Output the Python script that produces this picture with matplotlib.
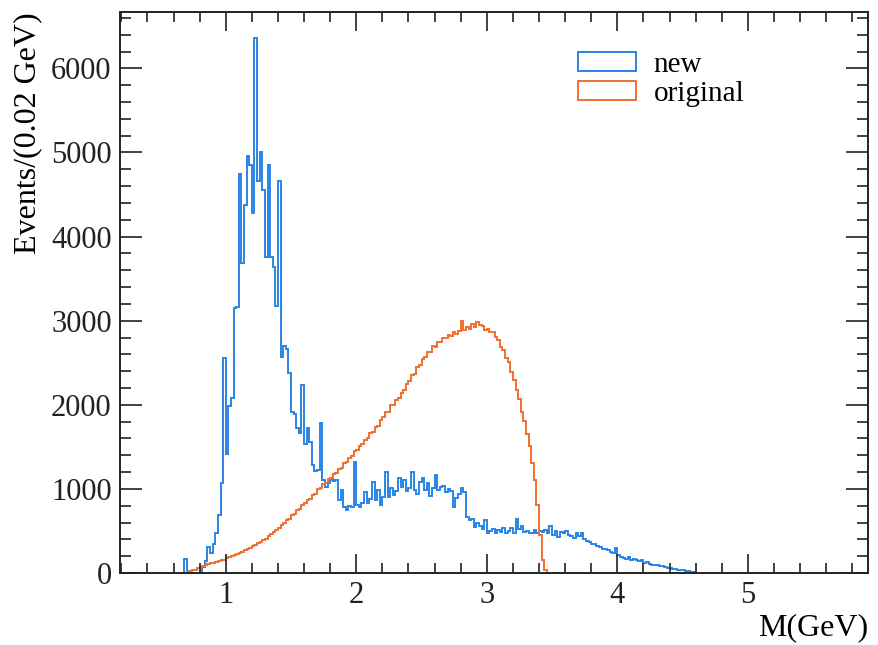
import numpy as np
import matplotlib
matplotlib.use("Agg")
import matplotlib.pyplot as plt
from matplotlib.patches import Patch
from matplotlib.ticker import MultipleLocator

plt.rcParams["font.family"] = ["Liberation Serif", "DejaVu Serif"]

# Histogram binning: 0.02 GeV bins, first bin starts at 0.60 GeV
bin_lo = 0.60
bin_w = 0.02

# "new" counts per bin, one row = 0.2 GeV (10 bins), starting at 0.60
new_counts = [
    0, 0, 0, 0, 170, 0, 0, 0, 0, 0,                                   # 0.60
    20, 70, 140, 310, 240, 340, 480, 690, 1070, 2560,                 # 0.80
    1420, 1980, 2080, 3150, 3160, 4740, 3680, 4380, 4960, 4850,       # 1.00
    4275, 6360, 4660, 5000, 4550, 3760, 4850, 3760, 3640, 3170,       # 1.20
    4660, 2570, 2700, 2660, 2380, 1910, 1890, 1720, 1660, 2230,       # 1.40
    1530, 1720, 1560, 1280, 1210, 1230, 1780, 1100, 1025, 1065,       # 1.60
    1100, 1090, 1100, 870, 990, 790, 750, 800, 780, 1320,             # 1.80
    810, 790, 830, 965, 830, 880, 1085, 870, 985, 810,                # 2.00
    900, 1200, 905, 1005, 925, 970, 1125, 1020, 1105, 970,            # 2.20
    1010, 1200, 985, 940, 1080, 1125, 990, 1065, 920, 1010,           # 2.40
    1165, 990, 1020, 1040, 960, 1000, 980, 790, 890, 940,             # 2.60
    1005, 960, 670, 630, 640, 550, 590, 560, 520, 630,                # 2.80
    475, 500, 520, 480, 510, 490, 530, 470, 500, 540,                 # 3.00
    480, 640, 520, 560, 490, 500, 470, 480, 510, 470,                 # 3.20
    500, 490, 510, 470, 560, 450, 500, 430, 490, 470,                 # 3.40
    500, 450, 440, 420, 470, 440, 470, 400, 380, 370,                 # 3.60
    350, 340, 320, 310, 290, 280, 270, 250, 240, 300,                 # 3.80
    210, 190, 180, 170, 190, 160, 170, 150, 140, 150,                 # 4.00
    120, 130, 110, 100, 100, 90, 80, 80, 70, 60,                      # 4.20
    60, 50, 50, 40, 30, 30, 20, 20, 10, 10,                           # 4.40
]

# "original" counts per bin, same binning
orig_counts = [
    0, 0, 0, 0, 0, 10, 20, 30, 40, 55,                                # 0.60
    70, 80, 95, 105, 115, 125, 135, 145, 150, 160,                    # 0.80
    175, 185, 200, 210, 225, 240, 250, 270, 280, 300,                 # 1.00
    320, 335, 355, 370, 395, 410, 440, 460, 490, 510,                 # 1.20
    540, 565, 590, 625, 645, 685, 700, 750, 765, 805,                 # 1.40
    830, 870, 880, 930, 945, 995, 1010, 1060, 1070, 1115,             # 1.60
    1135, 1180, 1190, 1240, 1250, 1310, 1320, 1370, 1390, 1450,       # 1.80
    1460, 1515, 1530, 1585, 1600, 1665, 1680, 1735, 1750, 1815,       # 2.00
    1850, 1910, 1920, 1995, 2000, 2055, 2080, 2145, 2170, 2245,       # 2.20
    2280, 2355, 2370, 2455, 2470, 2545, 2570, 2625, 2630, 2695,       # 2.40
    2690, 2745, 2750, 2795, 2790, 2825, 2820, 2865, 2840, 2880,       # 2.60
    3000, 2890, 2930, 2900, 2960, 2920, 2990, 2950, 2940, 2890,       # 2.80
    2905, 2870, 2865, 2810, 2770, 2690, 2650, 2560, 2510, 2390,       # 3.00
    2290, 2170, 2070, 1920, 1810, 1650, 1510, 1310, 1110, 810,        # 3.20
    450, 150, 30, 0, 0, 0, 0, 0, 0, 0,                                # 3.40
]

c_new = "#2a84e6"
c_orig = "#f0702e"

fig = plt.figure(figsize=(8.79, 6.45), dpi=100)
ax = fig.add_axes([0.1365, 0.1116, 0.851, 0.8698])

edges_new = bin_lo + bin_w * np.arange(len(new_counts) + 1)
edges_orig = bin_lo + bin_w * np.arange(len(orig_counts) + 1)
ax.stairs(new_counts, edges_new, color=c_new, lw=1.4)
ax.stairs(orig_counts, edges_orig, color=c_orig, lw=1.4)

ax.set_xlim(0.19, 5.92)
ax.set_ylim(0, 6670)

ax.xaxis.set_major_locator(MultipleLocator(1))
ax.xaxis.set_minor_locator(MultipleLocator(0.2))
ax.yaxis.set_major_locator(MultipleLocator(1000))
ax.yaxis.set_minor_locator(MultipleLocator(200))
ax.tick_params(which="both", direction="in", top=True, right=True,
               labelsize=22, width=1.2, colors="#222222")
ax.tick_params(axis="x", which="major", length=14, pad=6)
ax.tick_params(axis="x", which="minor", length=7)
ax.tick_params(axis="y", which="major", length=16, pad=6)
ax.tick_params(axis="y", which="minor", length=8)
for s in ax.spines.values():
    s.set_linewidth(1.4)
    s.set_color("#222222")

ax.set_xlabel("M(GeV)", fontsize=23, loc="right", labelpad=2)
ax.set_ylabel("Events/(0.02 GeV)", fontsize=23, loc="top", labelpad=6)

handles = [Patch(facecolor="none", edgecolor=c_new, lw=1.4, label="new"),
           Patch(facecolor="none", edgecolor=c_orig, lw=1.4, label="original")]
ax.legend(handles=handles, loc="upper left", bbox_to_anchor=(0.577, 0.976),
          frameon=False, fontsize=21, handlelength=2.0, handleheight=0.62,
          handletextpad=0.6, labelspacing=0.1)

plt.savefig("out.png", dpi=100)
